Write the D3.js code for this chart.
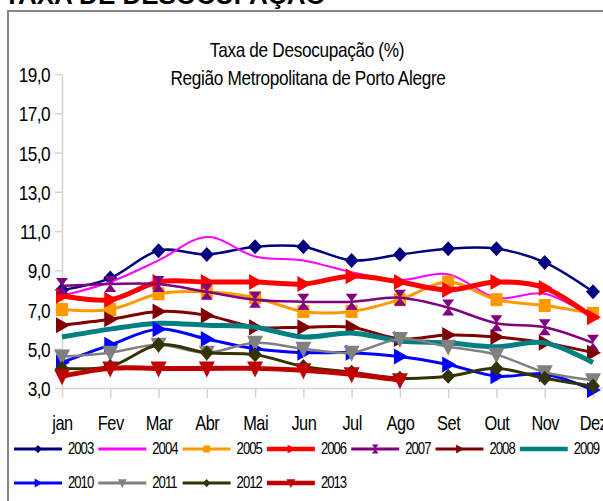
<!DOCTYPE html>
<html>
<head>
<meta charset="utf-8">
<script src="https://cdn.jsdelivr.net/npm/d3@7"></script>
<style>
  body { margin: 0; background: #fff; }
  text { font-family: "Liberation Sans", Arial, sans-serif; fill: #000; }
</style>
</head>
<body>
<div class="chart"></div>
<script>
const months = ["jan","Fev","Mar","Abr","Mai","Jun","Jul","Ago","Set","Out","Nov","Dez"]
const yearLabels = ["2003","2004","2005","2006","2007","2008","2009","2010","2011","2012","2013"]
const yTicks = [3,5,7,9,11,13,15,17,19]

const s2003 = [8.0,8.6,10.0,9.8,10.2,10.2,9.5,9.8,10.1,10.1,9.4,7.9]
const s2004 = [7.7,8.4,9.5,10.7,9.7,9.5,8.9,8.5,8.8,7.6,7.8,6.6]
const s2005 = [7.0,7.0,7.8,7.9,7.6,6.9,6.9,7.5,8.4,7.5,7.2,6.8]
const s2006 = [7.7,7.5,8.4,8.4,8.4,8.3,8.7,8.4,8.0,8.4,8.1,6.6]
const s2007 = [8.2,8.3,8.3,7.9,7.5,7.4,7.4,7.6,7.1,6.3,6.1,5.3]
const s2008 = [6.2,6.5,6.9,6.7,6.1,6.1,6.1,5.5,5.7,5.6,5.3,4.8]
const s2009 = [5.6,6.0,6.3,6.2,6.1,5.6,5.8,5.4,5.3,5.1,5.3,4.3]
const s2010 = [4.3,5.2,6.0,5.5,5.0,4.8,4.8,4.6,4.2,3.6,3.7,2.9]
const s2011 = [4.6,4.8,5.2,4.8,5.3,5.0,4.8,5.5,5.1,4.7,3.8,3.4]
const s2012 = [4.0,4.1,5.2,4.8,4.7,4.1,3.8,3.5,3.6,4.0,3.5,3.1]
const s2013 = [3.6,4.0,4.0,4.0,4.0,3.9,3.7,3.4]

const allValues = [s2003,s2004,s2005,s2006,s2007,s2008,s2009,s2010,s2011,s2012,s2013]

// look of each series (Excel style)
const colors = ["#000080","#ff00ff","#ff9900","#ff0000","#800080","#800000","#008080","#0000ff","#808080","#333300","#c00000"]
const widths = [2.5,2,3,5,2.5,3,5,3,2.5,3,5]
const markers = ["diamond",null,"square","tri","hour","tri",null,"tri","down","diamond","down"]

const series = yearLabels.map((y,i) => ({
  year: y, color: colors[i], width: widths[i], marker: markers[i],
  values: allValues[i].map((v,j) => ({m: months[j], v: v}))
}))

function markerPath(type, k) {
  if (type == "diamond") return `M0,${-7.5*k}L${7*k},0L0,${7.5*k}L${-7*k},0Z`
  if (type == "square") return `M${-6*k},${-6.5*k}H${6*k}V${6.5*k}H${-6*k}Z`
  if (type == "tri") return `M${-6*k},${-8*k}L${8*k},0L${-6*k},${8*k}Z`
  if (type == "hour") return `M${-6*k},${-8*k}H${6*k}L0,0L${6*k},${8*k}H${-6*k}L0,0Z`
  if (type == "down") return `M${-8*k},${-7*k}H${8*k}L0,${9*k}Z`
  return ""
}

// narrow look: squeeze text horizontally
const sq = 0.82

const W = 603, H = 501
const svg = d3.select(".chart").append("svg").attr("width", W).attr("height", H)

// cut-off heading and outer frame
svg.append("text").attr("x", 4).attr("y", 4)
  .style("font-weight", "bold").style("font-size", "26px").text("TAXA DE DESOCUPAÇÃO")
svg.append("rect").attr("x", 8).attr("y", 11).attr("width", 620).attr("height", 520)
  .attr("fill", "none").attr("stroke", "#868686").attr("stroke-width", 2)

svg.append("text").attr("transform", `translate(307,57) scale(${sq},1)`).attr("text-anchor", "middle")
  .style("font-size", "21px").style("letter-spacing", "-0.4px").text("Taxa de Desocupação (%)")
svg.append("text").attr("transform", `translate(308,85) scale(${sq},1)`).attr("text-anchor", "middle")
  .style("font-size", "21px").style("letter-spacing", "-0.4px").text("Região Metropolitana de Porto Alegre")

const x = d3.scalePoint().domain(months).range([62, 593])
const y = d3.scaleLinear().domain([3, 19]).range([388, 74])

const yAxis = svg.append("g").attr("transform", "translate(62,0)")
  .call(d3.axisLeft(y).tickValues(yTicks).tickSize(7).tickSizeOuter(0)
    .tickFormat(d => d3.format(".1f")(d).replace(".", ",")))
yAxis.select(".domain").attr("stroke", "#d4d4d4").attr("stroke-width", 1.5)
yAxis.selectAll(".tick line").attr("stroke", "#d4d4d4").attr("stroke-width", 1.5)
yAxis.selectAll("text").attr("x", 0).attr("transform", `translate(-12,1) scale(${sq},1)`)
  .style("font-size", "21px").style("letter-spacing", "-0.7px")

const xAxis = svg.append("g").attr("transform", "translate(0,388)")
  .call(d3.axisBottom(x).tickSize(10).tickSizeOuter(0))
xAxis.select(".domain").attr("stroke", "#d4d4d4").attr("stroke-width", 1.5)
xAxis.selectAll(".tick line").attr("stroke", "#d4d4d4").attr("stroke-width", 1.5)
xAxis.selectAll("text").attr("y", 0).attr("dy", 0).attr("transform", `translate(0,42) scale(${sq},1)`)
  .style("font-size", "20px").style("letter-spacing", "-0.6px")
svg.append("line").attr("x1", 593).attr("x2", 603).attr("y1", 388).attr("y2", 388)
  .attr("stroke", "#d4d4d4").attr("stroke-width", 1.5)

const line = d3.line().x(d => x(d.m)).y(d => y(d.v)).curve(d3.curveCardinal.tension(0))

const sg = svg.selectAll(".serie").data(series).enter().append("g").attr("class", "serie")
sg.append("path").attr("d", d => line(d.values)).attr("fill", "none")
  .attr("stroke", d => d.color).attr("stroke-width", d => d.width).attr("stroke-linejoin", "round")
sg.each(function(d) {
  if (!d.marker) return
  d3.select(this).selectAll("path.mk").data(d.values).enter().append("path").attr("class", "mk")
    .attr("transform", p => `translate(${x(p.m)},${y(p.v)})`)
    .attr("d", markerPath(d.marker, 1)).attr("fill", d.color)
})

// legend
const leg = svg.selectAll(".leg").data(series).enter().append("g").attr("class", "leg")
  .attr("transform", (d,i) => `translate(${14 + (i % 7) * 84.3},${i < 7 ? 449 : 483})`)
leg.append("line").attr("x1", 0).attr("x2", 48).attr("stroke", d => d.color)
  .attr("stroke-width", d => Math.max(3, d.width - 0.5))
leg.filter(d => d.marker).append("path").attr("transform", "translate(24,0)")
  .attr("d", d => markerPath(d.marker, 0.55)).attr("fill", d => d.color)
leg.append("text").attr("transform", `translate(54,5) scale(${sq},1)`)
  .style("font-size", "16px").style("letter-spacing", "-1.2px")
  .text(d => d.year)
</script>
</body>
</html>
